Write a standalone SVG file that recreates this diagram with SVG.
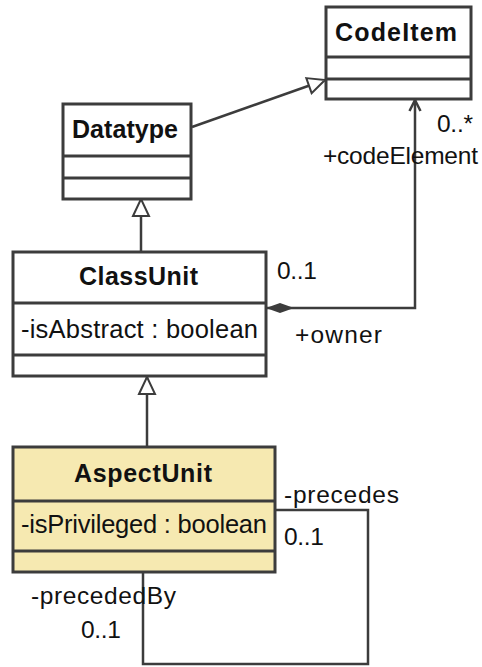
<svg xmlns="http://www.w3.org/2000/svg" width="482" height="667" viewBox="0 0 482 667">
  <style>
    .box { fill: #ffffff; stroke: #3c3c3c; stroke-width: 3; }
    .aspect { fill: #f6e9b1; }
    .sep { stroke: #3c3c3c; stroke-width: 3; }
    .title { font-family: "Liberation Sans", Arial, sans-serif; font-size: 25px; font-weight: bold; fill: #111111; text-anchor: middle; }
    .attr { font-family: "Liberation Sans", Arial, sans-serif; font-size: 25.5px; fill: #111111; }
    .lbl { font-family: "Liberation Sans", Arial, sans-serif; font-size: 24.5px; fill: #111111; }
    .edge { fill: none; stroke: #3c3c3c; stroke-width: 2.5; }
  </style>
  <defs>
    <!-- generalization: hollow triangle -->
    <marker id="gen" markerUnits="userSpaceOnUse" markerWidth="21" markerHeight="20" viewBox="-2 -2 21 20" refX="17" refY="8" orient="auto">
      <path d="M0,0 L17,8 L0,16 Z" fill="#ffffff" stroke="#3c3c3c" stroke-width="2"/>
    </marker>
    <!-- navigable end: open arrow -->
    <marker id="open" markerUnits="userSpaceOnUse" markerWidth="16" markerHeight="16" viewBox="-2 -2 16 15" refX="11" refY="5.5" orient="auto">
      <path d="M0,0 L11,5.5 L0,11" fill="none" stroke="#3c3c3c" stroke-width="2.5"/>
    </marker>
    <!-- composition: filled diamond -->
    <marker id="comp" markerUnits="userSpaceOnUse" markerWidth="30" markerHeight="12" viewBox="0 0 30 12" refX="0" refY="6" orient="auto">
      <path d="M0,6 L14,1 L28,6 L14,11 Z" fill="#3c3c3c"/>
    </marker>
  </defs>

  <g id="connectors">
    <path class="edge" d="M192,127 L325,80" marker-end="url(#gen)"/>
    <path class="edge" d="M141,252 V199" marker-end="url(#gen)"/>
    <path class="edge" d="M147,447 V377" marker-end="url(#gen)"/>
    <path class="edge" d="M266,308 H415 V100" marker-start="url(#comp)" marker-end="url(#open)"/>
    <path class="edge" d="M275,510 H368 V664 H143 V573"/>
    <text class="lbl" x="437" y="132" textLength="36">0..*</text>
    <text class="lbl" x="323" y="164" textLength="155">+codeElement</text>
    <text class="lbl" x="277" y="279" textLength="40">0..1</text>
    <text class="lbl" x="295" y="343" textLength="87">+owner</text>
    <text class="lbl" x="284" y="503" textLength="115">-precedes</text>
    <text class="lbl" x="284" y="545" textLength="40">0..1</text>
    <text class="lbl" x="31" y="604" textLength="145">-precededBy</text>
    <text class="lbl" x="81" y="638" textLength="40">0..1</text>
  </g>

  <g id="CodeItem">
    <rect class="box" x="326" y="7" width="145" height="92"/>
    <line class="sep" x1="326" y1="57" x2="471" y2="57"/>
    <line class="sep" x1="326" y1="79" x2="471" y2="79"/>
    <text class="title" x="396" y="41" textLength="122">CodeItem</text>
  </g>

  <g id="Datatype">
    <rect class="box" x="63" y="104" width="128" height="95"/>
    <line class="sep" x1="63" y1="156" x2="191" y2="156"/>
    <line class="sep" x1="63" y1="178" x2="191" y2="178"/>
    <text class="title" x="125" y="138" textLength="106">Datatype</text>
  </g>

  <g id="ClassUnit">
    <rect class="box" x="13" y="252" width="253" height="124"/>
    <line class="sep" x1="13" y1="303" x2="266" y2="303"/>
    <line class="sep" x1="13" y1="355" x2="266" y2="355"/>
    <text class="title" x="138.5" y="285" textLength="119">ClassUnit</text>
    <text class="attr" x="21" y="338" textLength="237">-isAbstract : boolean</text>
  </g>

  <g id="AspectUnit">
    <rect class="box aspect" x="13" y="447" width="262" height="125"/>
    <line class="sep" x1="13" y1="501" x2="275" y2="501"/>
    <line class="sep" x1="13" y1="551" x2="275" y2="551"/>
    <text class="title" x="143" y="482" textLength="138">AspectUnit</text>
    <text class="attr" x="21" y="533" textLength="246">-isPrivileged : boolean</text>
  </g>
</svg>
